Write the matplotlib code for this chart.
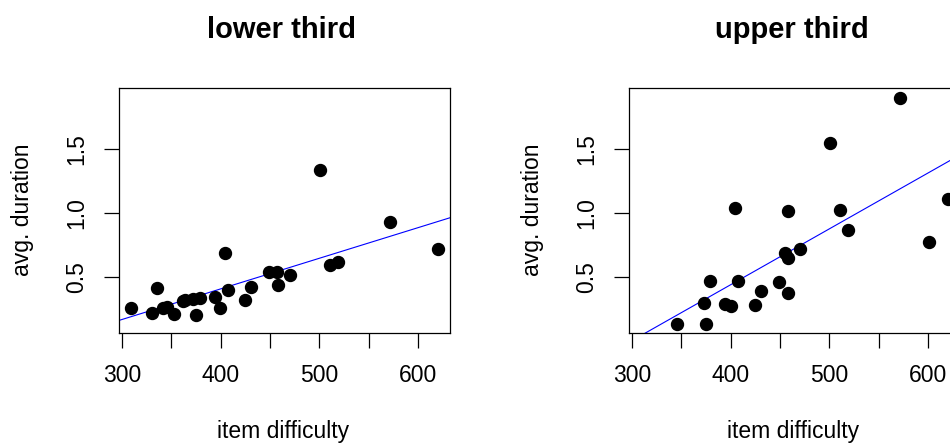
import matplotlib
matplotlib.use("Agg")
import matplotlib.pyplot as plt
import numpy as np

plt.rcParams['font.family'] = ['Liberation Sans', 'DejaVu Sans']

# lower third: item difficulty vs avg. duration
lower_x = [309.1, 330.1, 335.2, 341.9, 345.3, 353.1, 361.6, 363.9, 372.4, 379.1,
           375.1, 394.4, 399.4, 404.5, 407.5, 424.8, 430.9, 448.5, 456.9, 457.9,
           470.5, 500.2, 511.0, 519.2, 571.9, 620.3]
lower_y = [0.259, 0.220, 0.420, 0.262, 0.269, 0.215, 0.313, 0.321, 0.334, 0.342,
           0.205, 0.347, 0.259, 0.687, 0.402, 0.321, 0.422, 0.539, 0.544, 0.440,
           0.518, 1.337, 0.593, 0.619, 0.930, 0.720]
lower_fit = (-0.541, 0.002379)   # intercept, slope

# upper third
upper_x = [345.3, 375.1, 373.1, 379.1, 394.4, 400.1, 404.5, 407.5, 424.8, 430.9,
           448.5, 455.2, 458.6, 457.9, 458.6, 470.5, 500.2, 511.0, 519.2, 571.9,
           600.7, 620.3]
upper_y = [0.135, 0.140, 0.303, 0.472, 0.290, 0.280, 1.036, 0.469, 0.282, 0.394,
           0.464, 0.689, 0.650, 1.016, 0.381, 0.723, 1.544, 1.026, 0.868, 1.896,
           0.772, 1.106]
upper_fit = (-1.294, 0.004342)

titles = ["lower third", "upper third"]
panels = [(lower_x, lower_y, lower_fit), (upper_x, upper_y, upper_fit)]

xlim = (297.4, 632.6)
ylim = (0.072, 1.967)
xticks = [300, 350, 400, 450, 500, 550, 600]
xticklabels = ["300", "", "400", "", "500", "", "600"]
yticks = [0.5, 1.0, 1.5]
yticklabels = ["0.5", "1.0", "1.5"]

W, H = 950, 444
fig = plt.figure(figsize=(W / 100, H / 100), dpi=100)

box_w, box_h = 331, 244
box_bottom = 444 - 332.5
lefts = [119.3, 629.3]

for i, (x, y, fit) in enumerate(panels):
    ax = fig.add_axes([lefts[i] / W, box_bottom / H, box_w / W, box_h / H])
    ax.plot(x, y, 'o', color='black', ms=8.6, zorder=3)
    xs = np.array(xlim)
    ax.plot(xs, fit[0] + fit[1] * xs, color='#0000FF', lw=0.8, zorder=2)
    ax.set_xlim(*xlim)
    ax.set_ylim(*ylim)
    ax.set_xticks(xticks)
    ax.set_xticklabels(xticklabels)
    ax.set_yticks(yticks)
    ax.set_yticklabels(yticklabels, rotation=90, va='center')
    ax.tick_params(direction='out', length=10.5, width=0.9, labelsize=16.5, pad=12)
    for s in ax.spines.values():
        s.set_linewidth(0.9)
    cx = (lefts[i] + box_w / 2) / W
    fig.text(cx - 3 / W, 1 - 30 / H, titles[i], ha='center', va='center',
             fontsize=21, fontweight='bold')
    fig.text(cx - 2 / W, 1 - 438 / H, "item difficulty", ha='center', va='baseline',
             fontsize=16.5)
    fig.text((lefts[i] - 97) / W, 1 - 210 / H, "avg. duration", ha='center',
             va='center', rotation=90, fontsize=16.5)

fig.savefig("out.png", dpi=100)
